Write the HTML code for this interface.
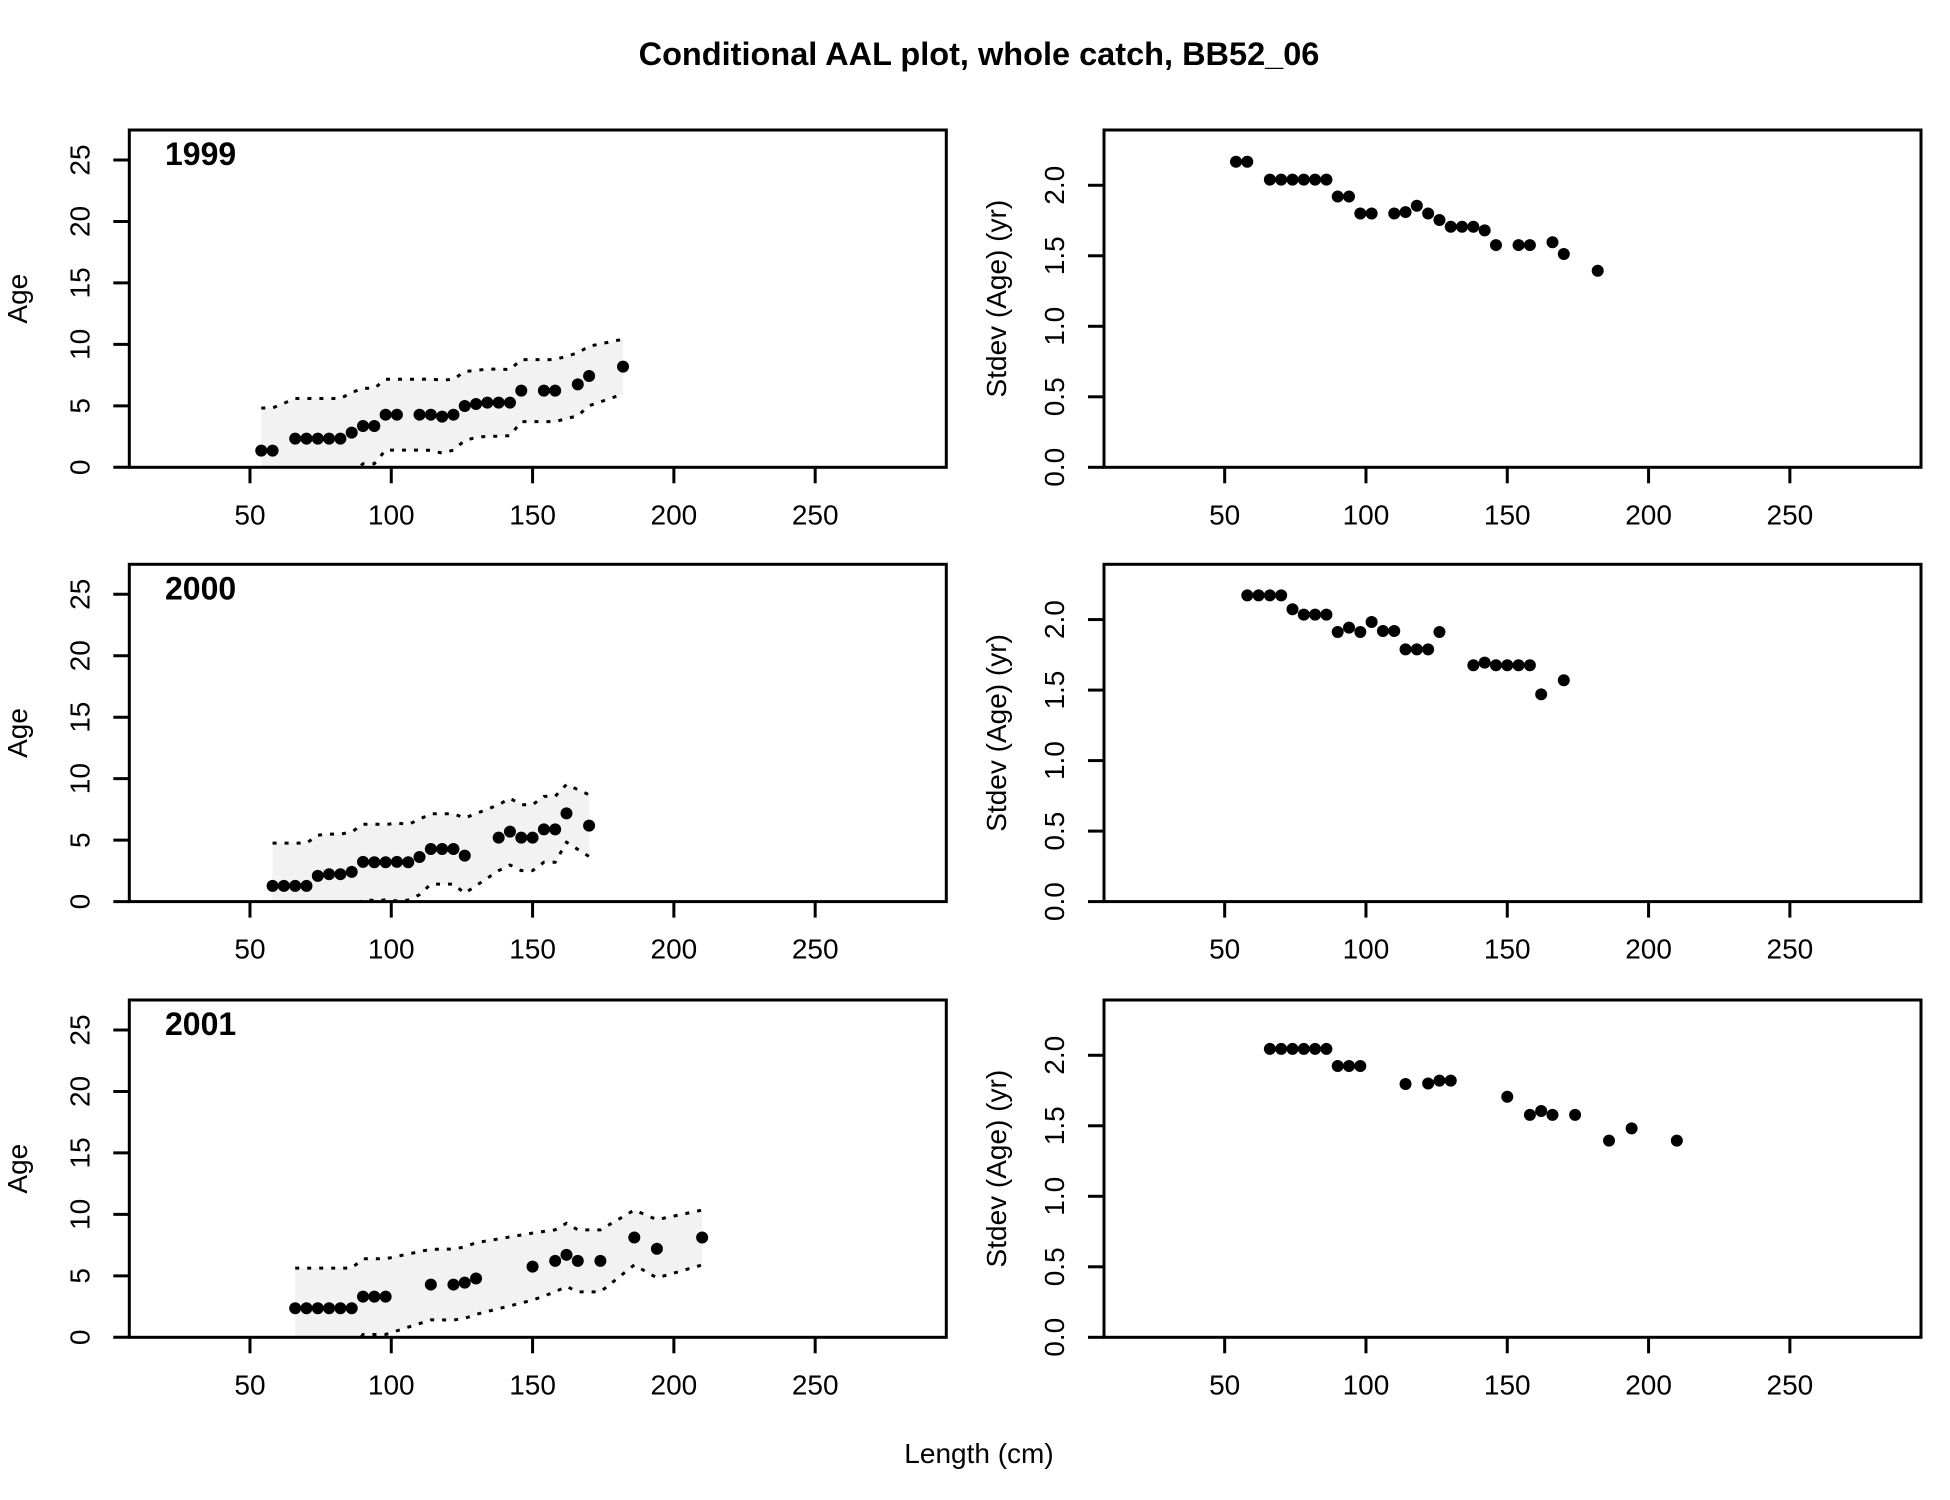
<!DOCTYPE html>
<html><head><meta charset="utf-8"><style>
html,body{margin:0;padding:0;background:#fff}
svg{display:block}
text{font-family:"Liberation Sans",Arial,sans-serif;fill:#000}
</style></head><body>
<svg id="chart" width="1950" height="1500" viewBox="0 0 1950 1500" xmlns="http://www.w3.org/2000/svg">
<text x="979" y="65" font-size="32.5" font-weight="bold" text-anchor="middle">Conditional AAL plot, whole catch, BB52_06</text>
<text x="979" y="1463" font-size="28" text-anchor="middle">Length (cm)</text>
</svg>
<script>
const years = ["1999","2000","2001"];
const len1999 = [54,58,66,70,74,78,82,86,90,94,98,102,110,114,118,122,126,130,134,138,142,146,154,158,166,170,182];
const age1999 = [1.36,1.36,2.33,2.33,2.33,2.33,2.33,2.82,3.36,3.36,4.28,4.28,4.28,4.28,4.12,4.28,4.99,5.15,5.26,5.26,5.26,6.24,6.24,6.24,6.75,7.43,8.19];
const sd1999 = [2.167,2.167,2.04,2.04,2.04,2.04,2.04,2.04,1.92,1.92,1.80,1.80,1.80,1.81,1.855,1.80,1.754,1.706,1.706,1.706,1.68,1.576,1.576,1.576,1.596,1.513,1.394];
const len2000 = [58,62,66,70,74,78,82,86,90,94,98,102,106,110,114,118,122,126,138,142,146,150,154,158,162,170];
const age2000 = [1.28,1.28,1.28,1.28,2.09,2.23,2.23,2.42,3.23,3.2,3.2,3.23,3.2,3.63,4.28,4.28,4.28,3.74,5.2,5.69,5.2,5.2,5.88,5.88,7.18,6.18];
const sd2000 = [2.172,2.172,2.172,2.172,2.073,2.035,2.035,2.035,1.912,1.943,1.912,1.983,1.919,1.919,1.789,1.789,1.789,1.912,1.676,1.695,1.676,1.676,1.676,1.676,1.47,1.57];
const len2001 = [66,70,74,78,82,86,90,94,98,114,122,126,130,150,158,162,166,174,186,194,210];
const age2001 = [2.36,2.36,2.36,2.36,2.36,2.36,3.31,3.31,3.31,4.29,4.29,4.45,4.78,5.75,6.22,6.71,6.22,6.22,8.12,7.2,8.12];
const sd2001 = [2.045,2.045,2.045,2.045,2.045,2.045,1.924,1.924,1.924,1.796,1.80,1.82,1.82,1.706,1.577,1.605,1.577,1.577,1.395,1.482,1.395];
const xTicks = [50,100,150,200,250];
const ageTicks = [0,5,10,15,20,25];
const sdTicks = ["0.0","0.5","1.0","1.5","2.0"];
const bandK = 1.6;

const NS="http://www.w3.org/2000/svg";
const svg=document.getElementById('chart');
const LEFTS=[129.3,1104], W=817, H=337.3, TOPS=[130,564.3,1000];
const XMIN=7.3, XMAX=296.4, AGEMAX=27.44, SDMAX=2.392;
function el(tag,attrs,parent){const e=document.createElementNS(NS,tag);for(const k in attrs)e.setAttribute(k,attrs[k]);(parent||svg).appendChild(e);return e;}
const lens=[len1999,len2000,len2001], ages=[age1999,age2000,age2001], sds=[sd1999,sd2000,sd2001];

years.forEach((yr,r)=>{
  const top=TOPS[r], bot=top+H;
  [0,1].forEach(c=>{
    const L=LEFTS[c];
    const sx=v=>L+(v-XMIN)/(XMAX-XMIN)*W;
    const ymax=c===0?AGEMAX:SDMAX;
    const sy=v=>bot-v/ymax*H;
    const g=el('g',{});
    
    
    const cid='clip'+r+c;
    const cp=el('clipPath',{id:cid},g); el('rect',{x:L,y:top,width:W,height:H},cp);
    const xs=lens[r], ys=c===0?ages[r]:sds[r];
    if(c===0){
      const sd=sds[r];
      const up=xs.map((x,i)=>[sx(x),sy(ys[i]+bandK*sd[i])]);
      const lo=xs.map((x,i)=>[sx(x),sy(ys[i]-bandK*sd[i])]);
      const poly=up.concat(lo.slice().reverse()).map(p=>p.join(',')).join(' ');
      const band=el('polygon',{points:poly,fill:'#f2f2f2','clip-path':'url(#'+cid+')'},g);
      
      
      [up,lo].forEach((pts,k)=>{
        const ln=el('polyline',{points:pts.map(p=>p.join(',')).join(' '),fill:'none',stroke:'#000','stroke-width':3,'stroke-dasharray':'4 8','clip-path':'url(#'+cid+')'},g);
        
        
      });
    }
    xs.forEach((x,i)=>{
      const pt=el('circle',{cx:sx(x),cy:sy(ys[i]),r:6,fill:'#000'},g);
      
      
    });
    const box=el('rect',{x:L,y:top,width:W,height:H,fill:'none',stroke:'#000','stroke-width':3},g);
    
    
    xTicks.forEach(t=>{
      el('line',{x1:sx(t),x2:sx(t),y1:bot,y2:bot+16,stroke:'#000','stroke-width':3},g);
      const tl=el('text',{x:sx(t),y:bot+57,'font-size':28,'text-anchor':'middle'},g);
      tl.textContent=t;
      
      
    });
    const labs=c===0?ageTicks.map(String):sdTicks;
    labs.forEach(lab=>{
      const v=parseFloat(lab), y=sy(v);
      el('line',{x1:L-16,x2:L,y1:y,y2:y,stroke:'#000','stroke-width':3},g);
      const tx=L-40;
      const tl=el('text',{x:tx,y:y,'font-size':28,'text-anchor':'middle',transform:'rotate(-90 '+tx+' '+y+')'},g);
      tl.textContent=lab;
      
      
    });
    const ax=c===0?27:1006, ay=top+H/2;
    const at=el('text',{x:ax,y:ay,'font-size':28,'text-anchor':'middle',transform:'rotate(-90 '+ax+' '+ay+')'},g);
    at.textContent=c===0?'Age':'Stdev (Age) (yr)';
    
    
    if(c===0){
      const yl=el('text',{x:165,y:top+35,'font-size':32,'font-weight':'bold'},g);
      yl.textContent=yr;
      
      
    }
  });
});
</script>
</body></html>
